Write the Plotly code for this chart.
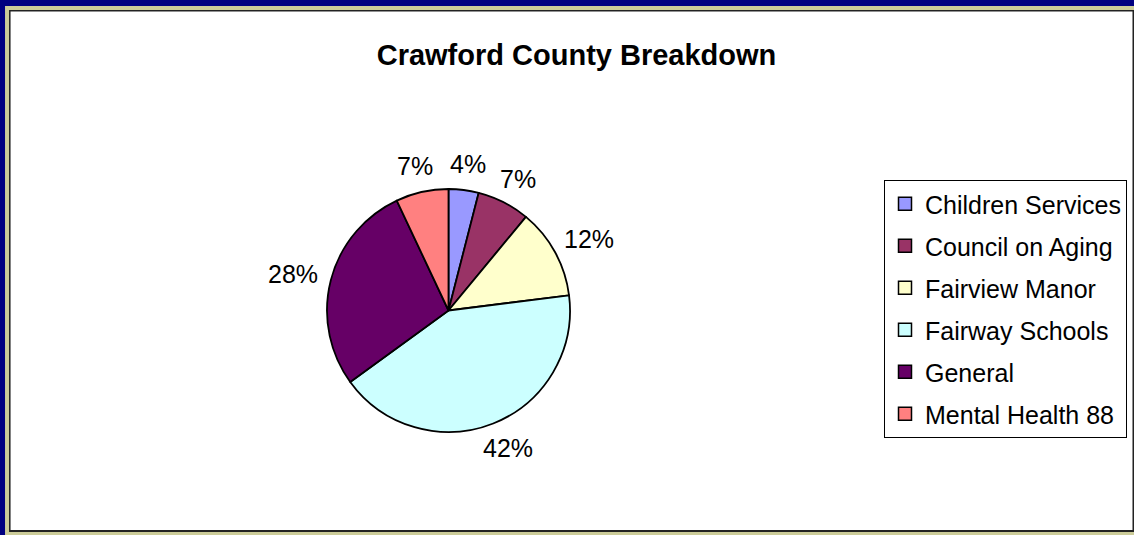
import math
import plotly.graph_objects as go

categories = ["Children Services", "Council on Aging", "Fairview Manor",
              "Fairway Schools", "General", "Mental Health 88"]
values = [4, 7, 12, 42, 28, 7]
colors = ["#9999FF", "#993366", "#FFFFCC", "#CCFFFF", "#660066", "#FF8080"]
title_text = "Crawford County Breakdown"

W, H = 1134, 535


def px(x):
    return x / W


def py(y):
    return 1 - y / H


fig = go.Figure()

cx, cy, r = 448.5, 310.5, 121.5
label_size = 25
fig.add_trace(go.Pie(
    labels=categories,
    values=values,
    sort=False,
    direction="clockwise",
    rotation=0,
    marker=dict(colors=colors, line=dict(color="black", width=1.8)),
    textinfo="none",
    showlegend=False,
    hoverinfo="label+percent",
    domain=dict(x=[px(cx - r), px(cx + r)], y=[py(cy + r), py(cy - r)]),
))

# percentage labels outside the slices, positioned from each slice's mid-angle
total = sum(values)
cum = 0.0
gap = 14
for v in values:
    mid = (cum + v / 2) / total * 2 * math.pi
    cum += v
    txt = f"{round(v / total * 100)}%"
    digits = len(txt) - 1
    w = label_size * (0.556 * digits + 0.889)
    h = label_size
    s, c = math.sin(mid), math.cos(mid)
    dx = (r + gap) * s + s * w / 2
    dy = -((r + gap) * c + c * h / 2)
    fig.add_annotation(
        x=px(cx + dx), y=py(cy + dy), xref="paper", yref="paper",
        text=txt, showarrow=False, xanchor="center", yanchor="middle",
        font=dict(family="Liberation Sans, Arial", size=label_size, color="black"),
    )

# legend entries mirroring the slices
for i, (lab, col) in enumerate(zip(categories, colors)):
    fig.add_trace(go.Scatter(
        x=[None], y=[None], mode="markers", name=lab,
        legendgroup=f"g{i}",
        marker=dict(symbol="square", size=13, color=col,
                    line=dict(color="black", width=1.5)),
        hoverinfo="skip",
    ))

shapes = [
    dict(type="rect", x0=px(6), x1=px(1134), y0=py(535), y1=py(5),
         fillcolor="#000080", line=dict(width=0), layer="below"),
    dict(type="rect", x0=px(11), x1=px(1134), y0=py(535), y1=py(11),
         fillcolor="#CCCC99", line=dict(width=0), layer="below"),
    dict(type="rect", x0=px(15), x1=px(1134), y0=py(532), y1=py(15),
         fillcolor="#222222", line=dict(width=0), layer="below"),
    dict(type="rect", x0=px(16.5), x1=px(1132.5), y0=py(530), y1=py(16.5),
         fillcolor="white", line=dict(width=0), layer="below"),
]

fig.update_layout(
    width=W, height=H,
    margin=dict(l=0, r=0, t=0, b=0),
    paper_bgcolor="white",
    plot_bgcolor="rgba(0,0,0,0)",
    shapes=shapes,
    title=dict(text=f"<b>{title_text}</b>", x=px(576.5), y=py(55),
               xanchor="center", yanchor="middle", xref="paper", yref="paper",
               font=dict(family="Liberation Sans, Arial", size=29, color="black")),
    xaxis=dict(visible=False),
    yaxis=dict(visible=False),
    legend=dict(
        x=px(884), y=py(180), xanchor="left", yanchor="top",
        bordercolor="black", borderwidth=1, bgcolor="white",
        font=dict(family="Liberation Sans, Arial", size=25, color="black"),
        traceorder="grouped", tracegroupgap=6.5, itemwidth=30,
    ),
)

fig.write_html("out.html", post_script="document.body.style.margin='0';",
               config={"displayModeBar": False})
